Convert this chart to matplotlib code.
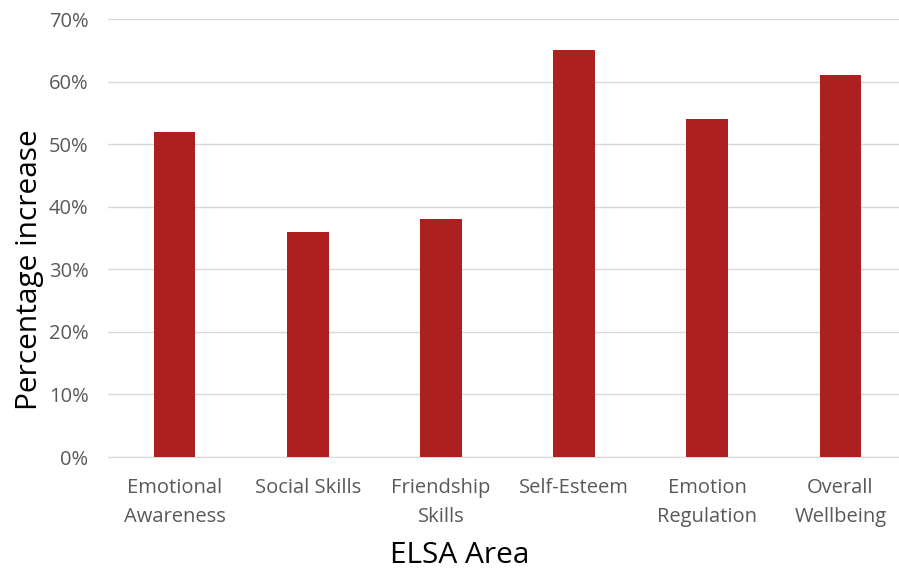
import matplotlib.pyplot as plt
from matplotlib.ticker import PercentFormatter

# ELSA areas and percentage increase
areas = ["Emotional\nAwareness", "Social Skills", "Friendship\nSkills",
         "Self-Esteem", "Emotion\nRegulation", "Overall\nWellbeing"]
increase = [52, 36, 38, 65, 54, 61]

fig = plt.figure(figsize=(8.99, 5.73), dpi=100)
ax = fig.add_axes([0.120, 0.2024, 0.889, 0.7644])

ax.bar(range(len(areas)), increase, width=0.315, color="#AE2020", zorder=3)

ax.set_xlim(-0.5, 5.5)
ax.set_ylim(0, 70)
ax.set_yticks(range(0, 71, 10))
ax.yaxis.set_major_formatter(PercentFormatter(decimals=0))
ax.set_xticks(range(len(areas)))
ax.set_xticklabels(areas, linespacing=1.6)

ax.grid(axis="y", color="#d9d9d9", linewidth=1, zorder=0)
for s in ["top", "right", "left"]:
    ax.spines[s].set_visible(False)
ax.spines["bottom"].set_color("#d9d9d9")
ax.tick_params(axis="both", length=0, colors="#595959", labelsize=14.5)
ax.tick_params(axis="x", pad=15)
ax.tick_params(axis="y", pad=14)
for lbl in ax.get_xticklabels() + ax.get_yticklabels():
    lbl.set_family("Open Sans")

ax.set_xlabel("ELSA Area", fontsize=21.5, family="Open Sans", va="center")
ax.set_ylabel("Percentage increase", fontsize=21.5, family="Open Sans", va="center")
ax.xaxis.set_label_coords(0.44, -0.224)
ax.yaxis.set_label_coords(-0.098, 0.427)

fig.savefig("out.png", dpi=100)
